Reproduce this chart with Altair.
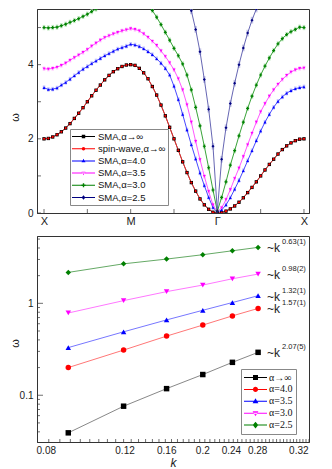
import altair as alt
import pandas as pd
import numpy as np

# ---------------- top panel: dispersion along X-M-Γ-X ----------------
path_pos = [round(i * 0.05, 2) for i in range(61)]   # 0 = X, 1 = M, 2 = Γ, 3 = X
sym_labels = ["X", "M", "Γ", "X"]

sma_inf = [2.00, 2.01, 2.05, 2.11, 2.19, 2.29, 2.41, 2.55, 2.69, 2.84, 3.00, 3.16, 3.31, 3.45, 3.59, 3.71, 3.81, 3.89, 3.95, 3.99, 4.00,
           3.98, 3.90, 3.78, 3.62, 3.41, 3.18, 2.91, 2.62, 2.31, 2.00, 1.69, 1.38, 1.09, 0.82, 0.59, 0.38, 0.22, 0.10, 0.02, 0.00,
           0.01, 0.05, 0.11, 0.19, 0.29, 0.41, 0.55, 0.69, 0.84, 1.00, 1.16, 1.31, 1.45, 1.59, 1.71, 1.81, 1.89, 1.95, 1.99, 2.00]
spin_inf = [2.00, 2.01, 2.05, 2.11, 2.19, 2.29, 2.41, 2.55, 2.69, 2.84, 3.00, 3.16, 3.31, 3.45, 3.59, 3.71, 3.81, 3.89, 3.95, 3.99, 4.00,
            3.98, 3.90, 3.78, 3.62, 3.41, 3.18, 2.91, 2.62, 2.31, 2.00, 1.69, 1.38, 1.09, 0.82, 0.59, 0.38, 0.22, 0.10, 0.02, 0.00,
            0.01, 0.05, 0.11, 0.19, 0.29, 0.41, 0.55, 0.69, 0.84, 1.00, 1.16, 1.31, 1.45, 1.59, 1.71, 1.81, 1.89, 1.95, 1.99, 2.00]
sma_40 = [3.38, 3.33, 3.34, 3.37, 3.45, 3.52, 3.61, 3.70, 3.79, 3.88, 3.95, 4.03, 4.10, 4.17, 4.24, 4.30, 4.36, 4.42, 4.46, 4.50, 4.55,
          4.53, 4.49, 4.43, 4.35, 4.27, 4.16, 4.04, 3.90, 3.72, 3.42, 3.06, 2.66, 2.24, 1.84, 1.46, 1.08, 0.74, 0.42, 0.15, 0.02,
          0.08, 0.22, 0.41, 0.64, 0.88, 1.14, 1.41, 1.68, 1.95, 2.21, 2.45, 2.66, 2.85, 3.01, 3.13, 3.23, 3.30, 3.35, 3.38, 3.40]
sma_35 = [3.89, 3.88, 3.90, 3.93, 3.98, 4.04, 4.12, 4.19, 4.26, 4.33, 4.41, 4.50, 4.58, 4.66, 4.73, 4.78, 4.83, 4.87, 4.91, 4.94, 4.97,
          4.95, 4.91, 4.83, 4.74, 4.63, 4.52, 4.37, 4.22, 4.05, 3.86, 3.62, 3.32, 2.92, 2.45, 1.93, 1.44, 0.99, 0.58, 0.22, 0.03,
          0.14, 0.36, 0.63, 0.93, 1.21, 1.52, 1.84, 2.15, 2.45, 2.73, 2.95, 3.15, 3.32, 3.47, 3.60, 3.71, 3.80, 3.86, 3.90, 3.91]
sma_30 = [5.00, 4.99, 5.00, 5.01, 5.05, 5.09, 5.14, 5.19, 5.24, 5.30, 5.36, 5.43, 5.50, 5.57, 5.63, 5.69, 5.74, 5.78, 5.81, 5.83, 5.84,
          5.83, 5.80, 5.72, 5.60, 5.46, 5.28, 5.08, 4.87, 4.66, 4.44, 4.24, 4.02, 3.72, 3.32, 2.85, 2.35, 1.80, 1.22, 0.62, 0.05,
          0.42, 0.84, 1.29, 1.68, 2.08, 2.45, 2.82, 3.15, 3.45, 3.72, 3.96, 4.18, 4.38, 4.56, 4.70, 4.81, 4.89, 4.95, 5.01, 5.00]
sma_25 = [None] * 33 + [5.85, 5.45, 4.95, 4.35, 3.60, 2.80, 1.80, 0.05,
                        1.45, 2.30, 2.95, 3.50, 4.00, 4.45, 4.85, 5.20, 5.50, 5.80] + [None] * 10

top_names = ["SMA,α→∞", "spin-wave,α→∞", "SMA,α=4.0", "SMA,α=3.5", "SMA,α=3.0", "SMA,α=2.5"]
top_values = [sma_inf, spin_inf, sma_40, sma_35, sma_30, sma_25]
top_err = [0.04, 0.04, 0.06, 0.06, 0.07, 0.09]
top_marker = ["#000000", "#ff0000", "#0000ff", "#ff00ff", "#008000", "#000080"]
top_linec = ["#333333", "#ff2222", "#3333ff", "#ff44ff", "#229922", "#5555aa"]
top_errc = ["#b0b0b0", "#ffaaaa", "#aaaaff", "#ffb0ff", "#a0dda0", "#b0b0e0"]
top_shapes = ["square", "circle", "triangle-up", "triangle-down", "cross", "diamond"]
top_sizes = [11, 5, 9, 9, 9, 9]

# ---------------- bottom panel: low-k power laws ----------------
k_vals = [0.094, 0.125, 0.156, 0.188, 0.219, 0.25]
w_inf = [0.039, 0.076, 0.118, 0.168, 0.228, 0.293]
w_40 = [0.20, 0.31, 0.44, 0.58, 0.73, 0.88]
w_35 = [0.33, 0.49, 0.66, 0.84, 1.02, 1.21]
w_30 = [0.785, 1.07, 1.34, 1.58, 1.85, 2.08]
w_25 = [2.17, 2.69, 3.03, 3.38, 3.73, 4.06]
bot_names = ["α→∞", "α=4.0", "α=3.5", "α=3.0", "α=2.5"]
bot_values = [w_inf, w_40, w_35, w_30, w_25]
bot_exps = ["2.07(5)", "1.57(1)", "1.32(1)", "0.98(2)", "0.63(1)"]
bot_marker = ["#000000", "#ff0000", "#0000ff", "#ff00ff", "#008000"]
bot_linec = ["#888888", "#ff7777", "#7777ff", "#ff77ff", "#66aa66"]
bot_shapes = ["square", "circle", "triangle-up", "triangle-down", "diamond"]

k_tick_pos = [0.0837, 0.1256, 0.1557, 0.1875, 0.2173, 0.2488, 0.3076]
k_tick_txt = ["0.08", "0.12", "0.16", "0.2", "0.24", "0.28", "0.32"]

# ---------------- frames ----------------
rows = []
for i in range(6):
    for p, v in zip(path_pos, top_values[i]):
        if v is None:
            continue
        rows.append({"series": top_names[i], "p": p, "w": v, "sz": top_sizes[i],
                     "lo": v - top_err[i], "hi": v + top_err[i]})
top_df = pd.DataFrame(rows)

brows = []
for name, vals in zip(bot_names, bot_values):
    for k, v in zip(k_vals, vals):
        brows.append({"series": name, "k": k, "w": v})
bot_df = pd.DataFrame(brows)
ann_df = pd.DataFrame({"series": bot_names, "k": [k_vals[-1]] * 5,
                       "w": [v[-1] for v in bot_values], "e": bot_exps})

W = 272
H_TOP = 204
H_BOT = 206

# legend symbols: thin bar (the line) plus a small marker
def lg_paths(m):
    line = "M-1,-0.045H1V0.045H-1Z"
    sq = f"M-{m},-{m}H{m}V{m}H-{m}Z"
    ci = f"M{m},0A{m},{m},0,1,1,-{m},0A{m},{m},0,1,1,{m},0Z"
    tu = f"M0,-{m*1.25:.3f}L{m*1.15:.3f},{m*0.8:.3f}H-{m*1.15:.3f}Z"
    td = f"M0,{m*1.25:.3f}L{m*1.15:.3f},-{m*0.8:.3f}H-{m*1.15:.3f}Z"
    a = m * 0.4
    b = m * 1.2
    cr = f"M-{a:.3f},-{b:.3f}H{a:.3f}V-{a:.3f}H{b:.3f}V{a:.3f}H{a:.3f}V{b:.3f}H-{a:.3f}V{a:.3f}H-{b:.3f}V-{a:.3f}H-{a:.3f}Z"
    di = f"M0,-{m*1.3:.3f}L{m*1.1:.3f},0L0,{m*1.3:.3f}L-{m*1.1:.3f},0Z"
    return {"square": line + sq, "circle": line + ci, "triangle-up": line + tu,
            "triangle-down": line + td, "cross": line + cr, "diamond": line + di}

tp = lg_paths(0.15)
bp = lg_paths(0.22)

# ---------------- top chart ----------------
y_top_scale = alt.Scale(domain=[0, 5.5], nice=False, zero=False)
y_top_axis = alt.Axis(values=[0, 2, 4], ticks=False, grid=False, title="ω",
                      labelPadding=4, titleX=-17, titleY=H_TOP / 2 + 6)
x_top = alt.X("p:Q", scale=alt.Scale(domain=[-0.081, 3.058], nice=False, zero=False),
              axis=alt.Axis(values=[0, 1, 2, 3], labelExpr=str(sym_labels) + "[datum.value]",
                            ticks=False, grid=False, title=None, labelPadding=2, labelFontSize=11))
y_top = alt.Y("w:Q", scale=y_top_scale, axis=y_top_axis)

err = alt.Chart(top_df).mark_rule(strokeWidth=2.5, opacity=0.7, clip=True).encode(
    x=x_top, y=alt.Y("lo:Q", scale=y_top_scale, axis=y_top_axis), y2="hi:Q",
    color=alt.Color("series:N", scale=alt.Scale(domain=top_names, range=top_errc), legend=None),
)
lines = alt.Chart(top_df).mark_line(strokeWidth=0.9, clip=True).encode(
    x=x_top, y=y_top,
    color=alt.Color("series:N", scale=alt.Scale(domain=top_names, range=top_linec), legend=None),
)
pts = alt.Chart(top_df).mark_point(filled=True, opacity=1, clip=True).encode(
    x=x_top, y=y_top,
    size=alt.Size("sz:Q", scale=None, legend=None),
    color=alt.Color("series:N", scale=alt.Scale(domain=top_names, range=top_marker), legend=None),
    shape=alt.Shape("series:N", scale=alt.Scale(domain=top_names, range=top_shapes), legend=None),
)
leg_top = alt.Legend(orient="none", legendX=33, legendY=120, title=None,
                     labelFont="Liberation Sans", labelFontSize=9.5, labelColor="#111",
                     symbolSize=529, symbolStrokeWidth=0, symbolOpacity=1,
                     strokeColor="#888888", fillColor="#ffffff", padding=2,
                     clipHeight=11, rowPadding=1.2, labelOffset=3, labelLimit=200)
leg_layer = alt.Chart(pd.DataFrame({"series": top_names})).mark_point(filled=True, opacity=0).encode(
    color=alt.Color("series:N", scale=alt.Scale(domain=top_names, range=top_marker), legend=leg_top),
    shape=alt.Shape("series:N", scale=alt.Scale(domain=top_names, range=[tp[s] for s in top_shapes]), legend=leg_top),
)
xt = alt.Chart(pd.DataFrame({"p": [0, 0.5, 1, 1.5, 2, 2.5, 3]})).mark_tick(
    color="#333", thickness=1, size=4).encode(x=x_top, y=alt.value(H_TOP - 2))
yt = alt.Chart(pd.DataFrame({"w": [0, 1, 2, 3, 4, 5]})).mark_tick(
    color="#333", thickness=1, size=4).encode(y=y_top, x=alt.value(2))

top = alt.layer(err, lines, pts, xt, yt, leg_layer).resolve_scale(
    color="independent", shape="independent").properties(width=W, height=H_TOP)

# ---------------- bottom chart ----------------
mids = [(a + b) / 2 for a, b in zip(k_tick_pos[:-1], k_tick_pos[1:])]
expr = ""
for m_, t in zip(mids, k_tick_txt[:-1]):
    expr += f"datum.value < {m_:.4f} ? '{t}' : "
expr += f"'{k_tick_txt[-1]}'"

x_bot = alt.X("k:Q", scale=alt.Scale(type="log", domain=[0.08, 0.325], nice=False),
              axis=alt.Axis(values=k_tick_pos, labelExpr=expr, ticks=False, grid=False,
                            title="k", titleFontStyle="italic", titleFont="Liberation Sans",
                            titleFontSize=12, titleFontWeight="normal", labelPadding=3, titlePadding=2))
y_bot = alt.Y("w:Q", scale=alt.Scale(type="log", domain=[0.031, 5.4], nice=False),
              axis=alt.Axis(values=[0.1, 1], labelExpr="datum.value >= 1 ? '1' : '0.1'",
                            ticks=False, grid=False, title="ω", labelPadding=4,
                            titleX=-17, titleY=H_BOT / 2 + 4))

blines = alt.Chart(bot_df).mark_line(strokeWidth=1).encode(
    x=x_bot, y=y_bot,
    color=alt.Color("series:N", scale=alt.Scale(domain=bot_names, range=bot_linec), legend=None),
)
bpts = alt.Chart(bot_df).mark_point(filled=True, size=30, opacity=1).encode(
    x=x_bot, y=y_bot,
    color=alt.Color("series:N", scale=alt.Scale(domain=bot_names, range=bot_marker), legend=None),
    shape=alt.Shape("series:N", scale=alt.Scale(domain=bot_names, range=bot_shapes), legend=None),
)
leg_bot = alt.Legend(orient="none", legendX=204, legendY=133, title=None,
                     labelFont="Liberation Serif", labelFontSize=10, labelColor="#111",
                     symbolSize=529, symbolStrokeWidth=0, symbolOpacity=1,
                     strokeColor="#888888", fillColor="#ffffff", padding=3,
                     clipHeight=11, rowPadding=0.9, labelOffset=2, labelLimit=200)
bleg = alt.Chart(pd.DataFrame({"series": bot_names})).mark_point(filled=True, opacity=0).encode(
    color=alt.Color("series:N", scale=alt.Scale(domain=bot_names, range=bot_marker), legend=leg_bot),
    shape=alt.Shape("series:N", scale=alt.Scale(domain=bot_names, range=[bp[s] for s in bot_shapes]), legend=leg_bot),
)
t1 = alt.Chart(ann_df).mark_text(align="left", baseline="middle", dx=9, dy=1, fontSize=12,
                                 font="Liberation Sans", color="#222", text="~k").encode(x=x_bot, y=y_bot)
t2 = alt.Chart(ann_df).mark_text(align="left", baseline="middle", dx=24, dy=-5, fontSize=7.5,
                                 font="Liberation Sans", color="#222").encode(x=x_bot, y=y_bot, text="e:N")

bxt = alt.Chart(pd.DataFrame({"k": np.round(np.arange(0.085, 0.3251, 0.005), 3)})).mark_tick(
    color="#333", thickness=1, size=3).encode(x=x_bot, y=alt.value(H_BOT - 1.5))
minor_w = [0.04, 0.05, 0.06, 0.07, 0.08, 0.09, 0.2, 0.3, 0.4, 0.5, 0.6, 0.7, 0.8, 0.9, 2, 3, 4, 5]
byt = alt.Chart(pd.DataFrame({"w": minor_w})).mark_tick(
    color="#333", thickness=1, size=3).encode(y=y_bot, x=alt.value(1.5))
byt2 = alt.Chart(pd.DataFrame({"w": [0.1, 1]})).mark_tick(
    color="#333", thickness=1, size=6).encode(y=y_bot, x=alt.value(3))

bottom = alt.layer(blines, bpts, t1, t2, bxt, byt, byt2, bleg).resolve_scale(
    color="independent", shape="independent").properties(width=W, height=H_BOT)

chart = alt.vconcat(top, bottom, spacing=8).properties(padding=0).configure_view(
    stroke="#333", strokeWidth=1
).configure_axis(
    labelFont="Liberation Sans", labelFontSize=10, labelColor="#222",
    titleFont="Liberation Sans", titleFontSize=11, titleColor="#222", titleFontWeight="normal",
    domainColor="#333", domainWidth=1,
)

chart.save("out.html", embed_options={"renderer": "svg", "actions": False})
